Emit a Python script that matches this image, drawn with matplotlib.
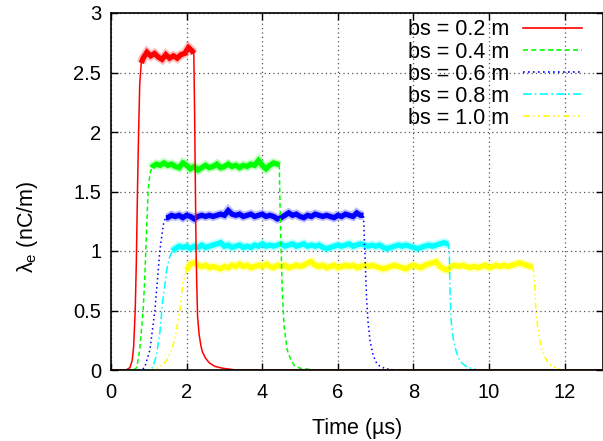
import numpy as np
import matplotlib
matplotlib.use("Agg")
import matplotlib.pyplot as plt

plt.rcParams['font.family'] = ['Liberation Sans', 'DejaVu Sans']
plt.rcParams['mathtext.fontset'] = 'custom'
plt.rcParams['mathtext.rm'] = 'Liberation Sans'
plt.rcParams['mathtext.it'] = 'Liberation Sans:italic'

# ---- data: line charge density vs time for several bunch spacings ----
labels = ["bs = 0.2 m", "bs = 0.4 m", "bs = 0.6 m", "bs = 0.8 m", "bs = 1.0 m"]
colors = ["#ff0000", "#00ff00", "#0000ff", "#00ffff", "#ffff00"]
styles = ["-", (0, (3, 2)), (0, (1, 2)), (0, (5, 2, 1, 2)), (0, (4, 2, 1, 2, 1, 2))]

PLATEAU_STEP = 0.1  # µs between plateau samples

# bs = 0.2 m
rise02_t = [0, 0.40, 0.50, 0.56, 0.60, 0.64, 0.67, 0.70, 0.73, 0.76, 0.80]
rise02_v = [0, 0, 0.02, 0.08, 0.2, 0.5, 0.9, 1.5, 2.0, 2.4, 2.58]
plat02_t0 = 0.85
plat02_v = [2.62, 2.67, 2.64, 2.66, 2.63, 2.61, 2.65, 2.62, 2.64, 2.62, 2.65, 2.66, 2.71, 2.68]
fall02_t = [2.19, 2.21, 2.23, 2.25, 2.27, 2.29, 2.33, 2.38, 2.42, 2.5, 2.6, 2.75, 2.95, 3.3, 13]
fall02_v = [2.66, 2.2, 1.6, 1.0, 0.7, 0.45, 0.3, 0.2, 0.15, 0.1, 0.06, 0.03, 0.015, 0.0, 0.0]

# bs = 0.4 m
rise04_t = [0, 0.6, 0.68, 0.76, 0.85, 0.89, 0.92, 0.98, 1.03, 1.08]
rise04_v = [0, 0, 0.02, 0.17, 0.5, 0.75, 1.0, 1.5, 1.65, 1.70]
plat04_t0 = 1.1
plat04_v = [1.71, 1.73, 1.72, 1.74, 1.72, 1.73, 1.71, 1.70, 1.74, 1.72,
            1.69, 1.71, 1.68, 1.70, 1.72, 1.70, 1.71, 1.73, 1.70, 1.71,
            1.73, 1.71, 1.72, 1.70, 1.72, 1.71, 1.73, 1.72, 1.76, 1.72,
            1.69, 1.72, 1.74, 1.73]
fall04_t = [4.45, 4.47, 4.49, 4.51, 4.53, 4.58, 4.66, 4.75, 4.84, 5.0, 5.4, 13]
fall04_v = [1.72, 1.4, 1.1, 0.9, 0.67, 0.36, 0.17, 0.09, 0.04, 0.015, 0, 0]

# bs = 0.6 m
rise06_t = [0, 0.8, 0.89, 1.03, 1.16, 1.24, 1.29, 1.34, 1.40, 1.45]
rise06_v = [0, 0, 0.02, 0.17, 0.5, 0.8, 1.0, 1.12, 1.25, 1.28]
plat06_t0 = 1.5
plat06_v = [1.28, 1.30, 1.29, 1.30, 1.28, 1.30, 1.29, 1.27, 1.29, 1.30,
            1.29, 1.30, 1.29, 1.30, 1.31, 1.30, 1.34, 1.31, 1.30, 1.31,
            1.29, 1.30, 1.31, 1.29, 1.30, 1.31, 1.29, 1.30, 1.29, 1.27,
            1.28, 1.30, 1.32, 1.30, 1.31, 1.29, 1.28, 1.30, 1.29, 1.31,
            1.30, 1.29, 1.30, 1.29, 1.28, 1.30, 1.29, 1.31, 1.30, 1.29,
            1.32, 1.30]
fall06_t = [6.68, 6.70, 6.72, 6.76, 6.8, 6.85, 6.92, 7.0, 7.1, 7.25, 7.5, 13]
fall06_v = [1.30, 1.1, 0.95, 0.6, 0.4, 0.25, 0.14, 0.07, 0.035, 0.012, 0, 0]

# bs = 0.8 m
rise08_t = [0, 1.0, 1.1, 1.2, 1.29, 1.37, 1.42, 1.47, 1.55, 1.62]
rise08_v = [0, 0, 0.02, 0.12, 0.31, 0.59, 0.7, 0.84, 0.95, 1.0]
plat08_t0 = 1.7
plat08_v = [1.02, 1.04, 1.03, 1.04, 1.02, 1.04, 1.03, 1.05, 1.03, 1.04,
            1.05, 1.06, 1.07, 1.04, 1.05, 1.03, 1.04, 1.05, 1.03, 1.04,
            1.03, 1.05, 1.04, 1.06, 1.04, 1.05, 1.04, 1.05, 1.06, 1.04,
            1.05, 1.06, 1.04, 1.05, 1.06, 1.04, 1.05, 1.04, 1.05, 1.03,
            1.02, 1.03, 1.04, 1.05, 1.04, 1.05, 1.06, 1.04, 1.05, 1.06,
            1.05, 1.04, 1.05, 1.04, 1.05, 1.03, 1.02, 1.03, 1.04, 1.05,
            1.04, 1.05, 1.04, 1.03, 1.02, 1.03, 1.04, 1.05, 1.04, 1.05,
            1.06, 1.07, 1.06]
fall08_t = [8.93, 8.95, 8.97, 9.0, 9.05, 9.1, 9.17, 9.24, 9.35, 9.45, 9.7, 13]
fall08_v = [1.06, 0.95, 0.62, 0.4, 0.27, 0.19, 0.12, 0.07, 0.04, 0.02, 0, 0]

# bs = 1.0 m
rise10_t = [0, 1.1, 1.2, 1.35, 1.47, 1.58, 1.68, 1.75, 1.82, 1.9, 2.0]
rise10_v = [0, 0, 0.01, 0.04, 0.08, 0.15, 0.25, 0.37, 0.5, 0.73, 0.84]
plat10_t0 = 2.1
plat10_v = [0.89, 0.90, 0.88, 0.87, 0.88, 0.86, 0.87, 0.86, 0.85, 0.87,
            0.86, 0.88, 0.87, 0.89, 0.87, 0.88, 0.86, 0.87, 0.88, 0.87,
            0.89, 0.87, 0.86, 0.88, 0.87, 0.88, 0.86, 0.87, 0.88, 0.87,
            0.88, 0.90, 0.91, 0.88, 0.87, 0.88, 0.86, 0.87, 0.88, 0.86,
            0.87, 0.88, 0.87, 0.88, 0.86, 0.87, 0.88, 0.87, 0.88, 0.87,
            0.86, 0.85, 0.86, 0.87, 0.88, 0.87, 0.86, 0.85, 0.87, 0.88,
            0.87, 0.86, 0.88, 0.89, 0.90, 0.91, 0.87, 0.85, 0.84, 0.87,
            0.88, 0.87, 0.88, 0.87, 0.86, 0.87, 0.86, 0.87, 0.88, 0.86,
            0.87, 0.88, 0.87, 0.88, 0.87, 0.88, 0.89, 0.90, 0.89, 0.88,
            0.87]
fall10_t = [11.15, 11.18, 11.2, 11.24, 11.29, 11.34, 11.4, 11.47, 11.55, 11.63, 11.9, 13]
fall10_v = [0.87, 0.82, 0.76, 0.48, 0.35, 0.25, 0.17, 0.11, 0.07, 0.04, 0, 0]

series = [
    (rise02_t, rise02_v, plat02_t0, plat02_v, fall02_t, fall02_v),
    (rise04_t, rise04_v, plat04_t0, plat04_v, fall04_t, fall04_v),
    (rise06_t, rise06_v, plat06_t0, plat06_v, fall06_t, fall06_v),
    (rise08_t, rise08_v, plat08_t0, plat08_v, fall08_t, fall08_v),
    (rise10_t, rise10_v, plat10_t0, plat10_v, fall10_t, fall10_v),
]

fig = plt.figure(figsize=(6.03, 4.41), dpi=100)
ax = fig.add_axes([111 / 603, 1 - 370 / 441, 491.5 / 603, 357 / 441])

n = len(series)
for i, (rt, rv, p0, pv, ft, fv) in enumerate(series):
    pt = p0 + PLATEAU_STEP * np.arange(len(pv))
    t = np.concatenate([rt, pt, ft])
    v = np.concatenate([rv, pv, fv])
    z = 10 + 2 * (n - i)
    ax.plot(t, v, color=colors[i], ls=styles[i], lw=1.1, zorder=z, label=labels[i])
    # noisy plateau drawn as a band
    bt = np.concatenate([[rt[-1]], pt, [ft[0]]])
    bv = np.concatenate([[rv[-1]], pv, [fv[0]]])
    ax.plot(bt, bv, color=colors[i], lw=6.5, alpha=0.25, zorder=z - 1,
            solid_capstyle='butt', solid_joinstyle='miter')
    ax.plot(bt, bv, color=colors[i], lw=3.8, zorder=z,
            solid_capstyle='butt', solid_joinstyle='miter')

ax.set_xlim(0, 13)
ax.set_ylim(0, 3)
ax.set_xticks([0, 2, 4, 6, 8, 10, 12])
ax.set_yticks([0, 0.5, 1, 1.5, 2, 2.5, 3])
ax.set_yticklabels(["0", "0.5", "1", "1.5", "2", "2.5", "3"])
ax.grid(True, color='#555555', ls=(0, (1, 2.5)), lw=0.9)
ax.set_axisbelow(True)
ax.tick_params(direction='in', length=5, width=1, top=True, right=True,
               labelsize=14.5, colors='black')
ax.tick_params(axis='x', pad=9)
ax.tick_params(axis='y', pad=7)
for s in ax.spines.values():
    s.set_linewidth(1.2)
    s.set_zorder(30)

ax.set_xlabel("Time (µs)", fontsize=15.5, labelpad=12)
ax.set_ylabel("λ$_{\\mathrm{e}}$ (nC/m)", fontsize=15.5)
ax.yaxis.set_label_coords(-0.145, 0.40)

leg = ax.legend(loc='upper right', frameon=False, markerfirst=False,
                fontsize=15.5, handlelength=2.7, handletextpad=0.65,
                labelspacing=0.05, borderaxespad=0.0, bbox_to_anchor=(0.975, 1.006))
for h in leg.get_lines():
    h.set_linewidth(1.2)

fig.savefig("out.png", dpi=100)
